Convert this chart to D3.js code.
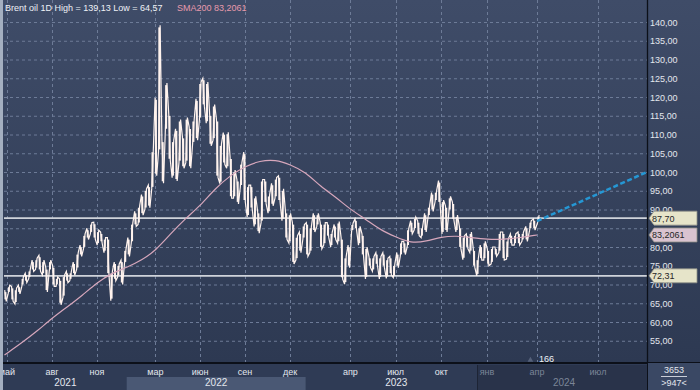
<!DOCTYPE html>
<html>
<head>
<meta charset="utf-8">
<script src="https://cdn.jsdelivr.net/npm/d3@7"></script>
<style>
  body { margin: 0; background: #2f3b55; }
  svg { display: block; }
  text { font-family: "Liberation Sans", Arial, sans-serif; }
</style>
</head>
<body>
<div id="chart"></div>
<script>
// ---- data ----
// weekly low / high of Brent, first week starts Mon 2021-04-26
const weekLow = [
  65.5,67.5,65.5,64.8,67.5,69.5,70.5,71.5,73.5,74.0,73.5,72.5,68.0,73.5,69.5,69.5,64.6,66.5,70.5,71.0,
  72.5,74.0,77.5,79.5,82.0,83.5,82.0,80.5,81.0,78.5,72.5,65.7,71.0,72.0,70.0,75.5,
  77.5,81.0,85.5,86.0,88.5,90.0,90.5,95.5,99.0,105.5,97.0,111.0,103.0,98.5,97.6,102.5,101.0,102.5,101.0,107.5,
  108.5,114.0,117.5,113.0,107.0,108.5,98.5,96.9,102.0,101.0,93.0,93.0,91.5,96.0,92.0,88.0,90.0,85.5,83.7,86.5,
  91.5,89.0,91.0,93.0,92.0,87.0,82.0,81.0,75.5,76.5,78.5,82.0,
  77.5,78.5,84.0,85.5,79.5,80.5,82.5,80.0,82.0,81.0,71.4,70.1,74.5,84.0,84.5,80.5,77.5,71.5,74.5,73.5,
  75.0,71.5,74.5,71.6,72.5,71.8,74.5,77.5,78.0,80.0,83.5,84.5,83.0,82.5,84.0,88.0,89.5,92.0,91.5,83.5,
  84.0,89.5,87.0,84.0,79.5,76.6,79.5,78.5,74.5,72.3,76.5,76.5,
  75.0,75.5,77.5,78.5,76.5,76.8,80.5,80.5,80.5,81.5,81.5,84.5,84.5,86.5
];
const weekHigh = [
  68.5,69.8,69.5,69.0,69.8,72.0,73.0,74.0,76.5,77.0,77.8,76.5,74.5,76.5,75.0,72.0,71.5,72.5,73.5,73.5,
  76.0,78.5,80.5,83.5,85.0,86.5,86.6,84.5,84.0,82.5,82.5,73.5,76.0,75.5,76.5,79.5,
  82.5,86.5,89.5,91.0,94.0,95.5,96.5,105.8,119.8,139.1,108.5,123.7,115.5,108.5,111.5,114.0,109.5,114.5,112.0,114.0,
  119.5,124.0,125.0,124.0,115.5,118.0,114.0,107.5,110.5,110.6,104.0,100.5,98.0,102.5,105.3,96.5,96.5,93.5,89.5,98.0,
  98.0,94.0,97.0,98.5,99.0,95.5,89.5,89.0,86.5,83.0,84.0,86.0,
  86.5,85.5,89.0,89.0,86.5,86.5,86.5,84.0,86.0,86.8,82.5,77.5,80.5,86.4,87.5,85.5,83.5,80.0,77.5,77.5,
  78.5,77.5,78.5,77.0,77.5,75.5,78.5,81.5,81.5,85.0,87.0,88.0,87.0,85.5,89.0,91.0,94.5,95.0,97.7,92.5,
  91.0,93.5,92.0,88.5,85.5,83.0,83.5,84.0,79.5,77.0,80.5,81.5,
  79.5,80.0,80.0,84.0,84.0,82.0,83.5,83.5,84.0,84.0,85.5,87.0,87.5,88.5
];

const smaDates = [
  "2021-04-26","2021-06-01","2021-07-01","2021-08-01","2021-09-01","2021-10-01","2021-11-01","2021-12-01",
  "2022-01-01","2022-02-01","2022-03-01","2022-04-01","2022-05-01","2022-06-01","2022-07-01","2022-08-01",
  "2022-09-01","2022-10-01","2022-11-01","2022-12-01","2023-01-01","2023-02-01","2023-03-01","2023-04-01",
  "2023-05-01","2023-06-01","2023-07-01","2023-08-01","2023-09-01","2023-10-01","2023-11-01","2023-12-01",
  "2024-01-01","2024-02-01","2024-03-01","2024-04-01"
];
const smaValues = [
  51.2,54.5,57.5,61,64,67,70.5,73,
  74.5,76.5,79,83.5,87.5,91,95.5,99,
  101.5,103,103.3,102,100,96,93.5,90,
  87.5,84.5,82.7,81,81.5,82.7,83,82.5,
  82,82,82.5,83.2
];

const forecastDates = ["2024-04-01", "2024-09-12"];
const forecastValues = [86.9, 100.0];

const levelValues = [87.70, 72.31];
const levelLabels = ["87,70", "72,31"];
const smaLast = 83.2061;
const smaLabel = "83,2061";

const yTicks = [55,60,65,70,75,80,85,90,95,100,105,110,115,120,125,130,135,140];
const monthTickDates = ["2021-05-01","2021-08-01","2021-11-01","2022-03-01","2022-06-01","2022-09-01",
  "2022-12-01","2023-04-01","2023-07-01","2023-10-01","2024-01-01","2024-04-01","2024-07-01"];
const monthTickLabels = ["май","авг","ноя","мар","июн","сен","дек","апр","июл","окт","янв","апр","июл"];
const yearLabels = ["2021","2022","2023","2024"];

const titleText = "Brent oil 1D High = 139,13 Low = 64,57";
const smaTitle = "SMA200 83,2061";
const barsCount = "166";
const totalBars = "3653";
const shownBars = ">947<";

// ---- layout ----
const W = 700, H = 390;
const L = 4, R = 647, T = 0, B = 363;
const parse = d3.timeParse("%Y-%m-%d");

const svg = d3.select("#chart").append("svg").attr("width", W).attr("height", H);
const defs = svg.append("defs");
const grad = defs.append("linearGradient").attr("id", "bg")
  .attr("x1", 0).attr("y1", 0).attr("x2", 0).attr("y2", 1);
grad.append("stop").attr("offset", "0%").attr("stop-color", "#3f4c68");
grad.append("stop").attr("offset", "100%").attr("stop-color", "#2d3952");
defs.append("clipPath").attr("id", "plotclip").append("rect")
  .attr("x", L).attr("y", T).attr("width", R - L).attr("height", B - T);

svg.append("rect").attr("width", W).attr("height", B).attr("fill", "url(#bg)");

// time axis is not linear in the source (trading days), so a piecewise scale
const x = d3.scaleTime()
  .domain(["2021-04-25","2021-11-01","2022-09-01","2024-01-01","2024-04-01","2024-07-01","2024-09-12"].map(parse))
  .range([L, 97, 245, 487, 537, 598, R]);
const y = d3.scaleLinear().domain([55, 140]).range([340.75, 22]);

const plot = svg.append("g").attr("clip-path", "url(#plotclip)");

// grid
plot.selectAll(".hg").data(yTicks).enter().append("line")
  .attr("x1", L).attr("x2", R).attr("y1", d => y(d) + 0.5).attr("y2", d => y(d) + 0.5)
  .attr("stroke", "#6d7b97").attr("stroke-dasharray", "3,3").attr("stroke-width", 1);
plot.selectAll(".vg").data(monthTickDates).enter().append("line")
  .attr("x1", d => Math.round(x(parse(d))) + 0.5).attr("x2", d => Math.round(x(parse(d))) + 0.5)
  .attr("y1", T).attr("y2", B)
  .attr("stroke", "#6d7b97").attr("stroke-dasharray", "3,3").attr("stroke-width", 1);

// level lines
plot.selectAll(".lvl").data(levelValues).enter().append("line")
  .attr("x1", L).attr("x2", R).attr("y1", d => y(d)).attr("y2", d => y(d))
  .attr("stroke", "#cfd3da").attr("stroke-width", 1.6);

// price: weekly high/low bars plus a zigzag between them
const weeks = d3.timeMonday.range(parse("2021-04-26"), parse("2024-04-02"));
const price = plot.append("g");
price.selectAll("rect").data(weeks).enter().append("rect")
  .attr("x", d => x(d3.timeDay.offset(d, 2)) - 1)
  .attr("width", 2)
  .attr("y", (d, i) => y(weekHigh[i]) + 2)
  .attr("height", (d, i) => Math.max(0, y(weekLow[i]) - y(weekHigh[i]) - 4))
  .attr("fill", "#fff3ee");
const pts = [];
weeks.forEach((w, i) => {
  const cx = x(d3.timeDay.offset(w, 2));
  const a = i % 2 === 0 ? weekHigh[i] : weekLow[i];
  const b = i % 2 === 0 ? weekLow[i] : weekHigh[i];
  pts.push([cx - 0.8, y(a)], [cx + 0.8, y(b)]);
});
price.append("path").attr("d", d3.line()(pts))
  .attr("fill", "none").attr("stroke", "#fff3ee").attr("stroke-width", 1.2)
  .attr("stroke-linejoin", "miter");

// SMA200
const sma = smaDates.map((d, i) => [parse(d), smaValues[i]]);
plot.append("path")
  .attr("d", d3.line().x(d => x(d[0])).y(d => y(d[1])).curve(d3.curveBasis)(sma))
  .attr("fill", "none").attr("stroke", "#d7a7bc").attr("stroke-width", 1.2);

// forecast dashed line
const fc = forecastDates.map((d, i) => [parse(d), forecastValues[i]]);
plot.append("path")
  .attr("d", d3.line().x(d => x(d[0])).y(d => y(d[1]))(fc))
  .attr("fill", "none").attr("stroke", "#2597d4").attr("stroke-width", 2.5)
  .attr("stroke-dasharray", "5,2.6");

// title
svg.append("text").attr("x", 5).attr("y", 11).attr("font-size", 9).attr("fill", "#eef1f6").text(titleText);
svg.append("text").attr("x", 177).attr("y", 11).attr("font-size", 9).attr("fill", "#e79aac").text(smaTitle);

// bar counter
svg.append("path").attr("d", d3.symbol(d3.symbolTriangle, 14)())
  .attr("transform", `translate(${x(parse("2024-03-20"))},${B - 3})`).attr("fill", "#55617a");
svg.append("text").attr("x", x(parse("2024-04-01")) + 2).attr("y", B - 1.5)
  .attr("font-size", 9).attr("fill", "#eef1f6").text(barsCount);

// right axis panel
svg.append("line").attr("x1", R + 0.5).attr("x2", R + 0.5).attr("y1", 0).attr("y2", H)
  .attr("stroke", "#0c1019").attr("stroke-width", 1.3);
// labels fully hidden under the price tags are left out, as in the source
const tagValues = [levelValues[0], smaLast, levelValues[1]];
svg.selectAll(".yl").data(yTicks.filter(t => tagValues.every(v => Math.abs(y(t) - y(v)) > 7))).enter().append("text")
  .attr("x", 650).attr("y", d => y(d) + 3.5).attr("font-size", 9).attr("fill", "#e3e7ee")
  .text(d => d3.format(".2f")(d).replace(".", ","));

// price tags
function tag(v, label, fill) {
  const c = y(v);
  svg.append("path")
    .attr("d", `M649,${c} L654,${c - 7} L697,${c - 7} L697,${c + 7} L654,${c + 7} Z`)
    .attr("fill", fill).attr("stroke", "#8e8f86").attr("stroke-width", 0.8);
  svg.append("text").attr("x", 652).attr("y", c + 3.5).attr("font-size", 9)
    .attr("fill", "#262626").text(label);
}
tag(levelValues[0], levelLabels[0], "#e6e4c9");
tag(smaLast, smaLabel, "#d9c3d0");
tag(levelValues[1], levelLabels[1], "#e6e4c9");

// bottom time panel
svg.append("rect").attr("x", 0).attr("y", B).attr("width", R).attr("height", H - B).attr("fill", "#2f3b55");
const yearStarts = ["2021-04-25","2022-01-01","2023-01-01","2024-01-01","2024-09-12"].map(parse);
yearLabels.forEach((lab, i) => {
  const x0 = x(yearStarts[i]), x1 = x(yearStarts[i + 1]);
  if (i === 1) {
    svg.append("rect").attr("x", x0).attr("y", 377).attr("width", x1 - x0).attr("height", H - 377)
      .attr("fill", "#4a5874");
  }
  if (i === 3) {
    svg.append("rect").attr("x", x0 - 10).attr("y", B + 2).attr("width", R - x0 + 10).attr("height", H - B - 2)
      .attr("fill", "#29334a");
    svg.append("line").attr("x1", x0 - 9.5).attr("x2", x0 - 9.5).attr("y1", B + 2).attr("y2", H)
      .attr("stroke", "#1d2435");
  }
  svg.append("text").attr("x", (x0 + x1) / 2 + (i === 3 ? -3 : 0)).attr("y", 386)
    .attr("text-anchor", "middle").attr("font-size", 10)
    .attr("fill", i === 3 ? "#7b8598" : "#e3e7ee").text(lab);
});
monthTickDates.forEach((d, i) => {
  const dd = parse(d);
  svg.append("text").attr("x", x(dd)).attr("y", 375).attr("text-anchor", "middle")
    .attr("font-size", 9).attr("fill", dd >= parse("2024-01-01") ? "#7b8598" : "#e3e7ee")
    .text(monthTickLabels[i]);
});
svg.append("rect").attr("x", 0).attr("y", B - 1).attr("width", R + 1).attr("height", 2).attr("fill", "#0c1019");

// bottom-right counters
svg.append("rect").attr("x", R + 1).attr("y", B).attr("width", W - R - 1).attr("height", H - B).attr("fill", "#3a4864");
svg.append("rect").attr("x", R + 1).attr("y", B - 1).attr("width", W - R - 1).attr("height", 1).attr("fill", "#0c1019");
svg.append("text").attr("x", 674).attr("y", 373).attr("text-anchor", "middle").attr("font-size", 9)
  .attr("fill", "#e3e7ee").text(totalBars);
svg.append("line").attr("x1", 661).attr("x2", 687).attr("y1", 376.5).attr("y2", 376.5).attr("stroke", "#c9ced8");
svg.append("text").attr("x", 674).attr("y", 386).attr("text-anchor", "middle").attr("font-size", 9)
  .attr("fill", "#e3e7ee").text(shownBars);

// left window edge
svg.append("rect").attr("x", 0).attr("y", 0).attr("width", 3).attr("height", H).attr("fill", "#a4afc0");
</script>
</body>
</html>
